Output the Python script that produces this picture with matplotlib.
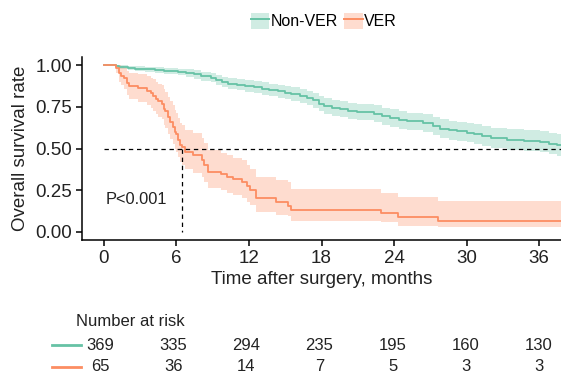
import matplotlib

matplotlib.use("Agg")
import matplotlib.pyplot as plt  # noqa: E402
from matplotlib.lines import Line2D  # noqa: E402
from matplotlib.patches import Patch  # noqa: E402
from matplotlib.transforms import blended_transform_factory  # noqa: E402

plt.rcParams["font.family"] = ["Liberation Sans", "DejaVu Sans"]

GREEN, ORANGE = "#66C2A5", "#FC8D62"

# Non-VER KM curve + 95% CI (months, survival)
NV_T = [0, 1.0, 1.3, 2.0, 2.6, 3.4, 4.2, 5.0, 6.1, 6.8, 7.5, 8.0, 8.9, 9.3, 9.8, 10.3, 11.0, 11.7,
        12.4, 13.05, 13.7, 14.4, 15.0, 15.5, 16.2, 16.8, 17.3, 17.8, 18.2, 18.9, 19.5, 20.2, 20.9,
        22.3, 23.0, 23.7, 24.4, 25.1, 26.4, 27.2, 27.8, 28.5, 29.2, 30.0, 30.6, 31.3, 32.0, 33.3,
        34.7, 36.1, 36.8, 37.5, 38.0]
NV_S = [1.0, 0.995, 0.99, 0.985, 0.98, 0.975, 0.97, 0.965, 0.96, 0.955, 0.945, 0.935, 0.925, 0.91,
        0.90, 0.89, 0.883, 0.877, 0.868, 0.86, 0.852, 0.845, 0.835, 0.826, 0.815, 0.805, 0.79, 0.77,
        0.756, 0.745, 0.736, 0.727, 0.718, 0.71, 0.695, 0.683, 0.673, 0.663, 0.653, 0.635, 0.62,
        0.61, 0.603, 0.595, 0.587, 0.575, 0.564, 0.554, 0.548, 0.54, 0.53, 0.52, 0.515]
NV_HI = [1.0, 1.0, 1.0, 0.997, 0.994, 0.99, 0.987, 0.984, 0.98, 0.977, 0.97, 0.962, 0.953, 0.94,
         0.932, 0.923, 0.917, 0.912, 0.904, 0.897, 0.89, 0.884, 0.875, 0.867, 0.857, 0.848, 0.834,
         0.815, 0.802, 0.792, 0.784, 0.776, 0.767, 0.76, 0.746, 0.735, 0.726, 0.716, 0.707, 0.69,
         0.676, 0.667, 0.66, 0.653, 0.645, 0.634, 0.624, 0.615, 0.61, 0.603, 0.594, 0.585, 0.58]
NV_LO = [1.0, 0.988, 0.98, 0.972, 0.965, 0.958, 0.952, 0.945, 0.939, 0.932, 0.92, 0.908, 0.897,
         0.88, 0.868, 0.857, 0.849, 0.842, 0.832, 0.823, 0.814, 0.806, 0.795, 0.785, 0.773, 0.762,
         0.746, 0.725, 0.71, 0.698, 0.688, 0.678, 0.669, 0.66, 0.644, 0.631, 0.62, 0.61, 0.599,
         0.58, 0.564, 0.553, 0.546, 0.537, 0.529, 0.516, 0.504, 0.493, 0.486, 0.477, 0.466, 0.455,
         0.45]

# VER KM curve + 95% CI
VER_T = [0, 1.05, 1.25, 1.45, 1.65, 1.9, 2.1, 2.8, 3.6, 3.9, 4.1, 4.3, 4.5, 4.8, 4.95, 5.1, 5.3,
         5.5, 5.7, 5.9, 6.0, 6.15, 6.3, 6.5, 6.7, 7.4, 8.1, 8.3, 8.6, 9.7, 10.2, 10.7, 11.4, 11.8,
         12.1, 12.6, 14.2, 15.2, 15.5, 22.9, 24.3, 27.6, 38.0]
VER_S = [1.0, 0.985, 0.954, 0.938, 0.923, 0.892, 0.877, 0.862, 0.846, 0.831, 0.815, 0.80, 0.785,
         0.769, 0.738, 0.723, 0.692, 0.662, 0.631, 0.60, 0.585, 0.554, 0.523, 0.507, 0.477, 0.46,
         0.43, 0.40, 0.36, 0.345, 0.33, 0.315, 0.30, 0.275, 0.25, 0.20, 0.177, 0.157, 0.133, 0.113,
         0.087, 0.067, 0.067]
VER_HI = [1.0, 1.0, 1.0, 0.995, 0.985, 0.965, 0.955, 0.95, 0.935, 0.925, 0.915, 0.90, 0.89, 0.88,
          0.855, 0.84, 0.81, 0.785, 0.76, 0.73, 0.715, 0.685, 0.655, 0.64, 0.61, 0.595, 0.565,
          0.535, 0.49, 0.475, 0.46, 0.445, 0.43, 0.40, 0.375, 0.33, 0.31, 0.30, 0.256, 0.23, 0.206,
          0.183, 0.183]
VER_LO = [1.0, 0.955, 0.90, 0.88, 0.86, 0.82, 0.80, 0.78, 0.76, 0.745, 0.725, 0.71, 0.69, 0.675,
          0.64, 0.625, 0.59, 0.56, 0.53, 0.50, 0.48, 0.45, 0.42, 0.40, 0.375, 0.355, 0.33, 0.30,
          0.265, 0.25, 0.235, 0.22, 0.205, 0.18, 0.16, 0.12, 0.10, 0.097, 0.067, 0.057, 0.037,
          0.028, 0.028]

MEDIAN_VER = 6.5
TICKS = [0, 6, 12, 18, 24, 30, 36]
RISK_NV = [369, 335, 294, 235, 195, 160, 130]
RISK_VER = [65, 36, 14, 7, 5, 3, 3]

W, H = 561, 373
fig = plt.figure(figsize=(W / 100, H / 100), dpi=100)
ax = fig.add_axes([82 / W, 1 - 240 / H, 1 - 82 / W, (240 - 57) / H])

for t, s, lo, hi, c in [(NV_T, NV_S, NV_LO, NV_HI, GREEN), (VER_T, VER_S, VER_LO, VER_HI, ORANGE)]:
    ax.fill_between(t, lo, hi, step="post", color=c, alpha=0.3, lw=0)
    ax.step(t, s, where="post", color=c, lw=1.3)

# median line
ax.plot([0, 38], [0.5, 0.5], ls=(0, (3.5, 3)), color="black", lw=0.9)
ax.plot([MEDIAN_VER, MEDIAN_VER], [0.5, 0], ls=(0, (3.5, 3)), color="black", lw=0.9)
ax.text(0.15, 0.195, "P<0.001", fontsize=11.8, va="center", ha="left", color="#222")

ax.set_xlim(-1.8, 37.8)
ax.set_ylim(-0.05, 1.05)
ax.set_xticks(TICKS)
ax.set_yticks([0, 0.25, 0.5, 0.75, 1.0])
ax.set_yticklabels(["0.00", "0.25", "0.50", "0.75", "1.00"])
for sp in ("top", "right"):
    ax.spines[sp].set_visible(False)
for sp in ("left", "bottom"):
    ax.spines[sp].set_linewidth(1.1)
ax.tick_params(labelsize=13.5, length=4, width=1.1, pad=3, labelcolor="#222")
ax.set_xlabel("Time after surgery, months", fontsize=13.5, color="#222", labelpad=3)
ax.set_ylabel("Overall survival rate", fontsize=13.5, color="#222", labelpad=5)

handles = [(Patch(facecolor=c, alpha=0.3, lw=0), Line2D([], [], color=c, lw=1.4)) for c in (GREEN, ORANGE)]
fig.legend(handles, ["Non-VER", "VER"], loc="center", bbox_to_anchor=(0.577, 1 - 21 / H), ncol=2,
           frameon=False, fontsize=11.5, handlelength=1.15, handleheight=1.15, handletextpad=0.08,
           columnspacing=0.4, borderpad=0)

# number at risk table
tax = fig.add_axes([82 / W, 0, 1 - 82 / W, 0.1])
tax.axis("off")
tax.set_xlim(-1.475, 37.8)
tr = blended_transform_factory(tax.transData, fig.transFigure)
fig.text(76 / W, 1 - 321 / H, "Number at risk", fontsize=12, va="center", color="#222")
for vals, c, y in [(RISK_NV, GREEN, 345), (RISK_VER, ORANGE, 366.5)]:
    yf = 1 - y / H
    fig.add_artist(Line2D([52 / W, 81 / W], [yf, yf], color=c, lw=2, transform=fig.transFigure))
    for t, v in zip(TICKS, vals):
        tax.text(t, yf, str(v), transform=tr, ha="center", va="center", fontsize=12, color="#222")

fig.savefig("out.png", dpi=100, facecolor="white")
